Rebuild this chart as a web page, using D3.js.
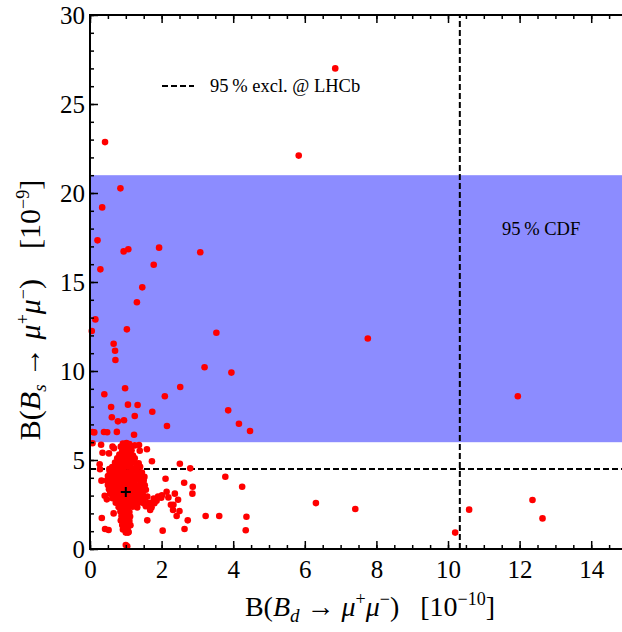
<!DOCTYPE html>
<html>
<head>
<meta charset="utf-8">
<script src="https://cdn.jsdelivr.net/npm/d3@7"></script>
<style>
  body { margin: 0; background: #fff; }
  svg { display: block; }
</style>
</head>
<body>
<svg id="chart" width="622" height="632"></svg>
<script>
// scan points: [B(Bd->mumu) in 1e-10, B(Bs->mumu) in 1e-9]
var outerPoints = [
  [6.85, 27.0], [5.83, 22.1], [0.42, 22.86], [0.85, 20.26], [0.34, 19.19], [0.21, 17.34],
  [0.94, 16.72], [1.07, 16.84], [1.93, 16.93], [3.08, 16.67], [0.29, 15.71], [1.78, 15.97],
  [1.46, 14.70], [1.31, 13.86], [0.15, 12.90], [0.05, 12.25], [1.03, 12.34], [3.53, 12.15],
  [7.76, 11.83], [0.66, 11.53], [0.70, 11.14], [0.71, 10.62], [3.20, 10.21], [3.95, 9.91],
  [0.98, 9.03], [2.52, 9.10], [11.95, 8.58], [0.40, 8.69], [2.09, 8.58], [0.59, 7.98],
  [1.06, 8.11], [1.33, 8.09], [1.74, 7.71], [3.86, 7.79], [0.61, 7.40], [0.78, 7.17],
  [0.95, 7.23], [1.25, 7.47], [2.15, 6.91], [4.16, 7.04], [4.47, 6.63], [0.07, 6.57],
  [0.12, 6.55], [0.39, 6.57], [0.48, 6.56], [0.75, 6.58], [1.23, 6.42]
];

var lowPoints = [
  [0.31, 5.86], [0.07, 5.94], [0.35, 5.41], [0.53, 5.37], [0.63, 5.75], [0.67, 5.66],
  [1.37, 5.84], [1.39, 5.52], [1.25, 5.82], [1.59, 5.60], [1.36, 4.81], [1.73, 4.93],
  [0.27, 4.76], [0.28, 4.48], [0.54, 4.49], [2.51, 4.79], [2.80, 4.53], [0.32, 3.84],
  [0.41, 2.99], [0.47, 2.79], [0.66, 2.00], [0.33, 1.74], [0.42, 1.12], [0.52, 1.07],
  [1.60, 1.61], [2.03, 1.03], [2.11, 3.95], [2.63, 3.72], [2.87, 3.50], [2.86, 3.11],
  [3.78, 4.06], [4.25, 3.50], [2.14, 3.22], [2.37, 3.11], [2.46, 2.77], [2.19, 2.90],
  [2.26, 2.49], [2.33, 2.49], [2.32, 2.19], [2.50, 2.13], [2.42, 1.85], [2.73, 1.61],
  [2.64, 1.12], [3.23, 1.85], [3.61, 1.85], [4.37, 1.81], [4.35, 1.05], [6.31, 2.58],
  [7.41, 2.25], [10.2, 0.92], [10.59, 2.21], [12.36, 2.75], [12.64, 1.72], [1.00, 0.22],
  [1.04, 0.15], [1.06, 0.92], [1.99, 2.88], [2.01, 3.02], [1.78, 2.83], [1.86, 2.71],
  [1.80, 2.57], [1.72, 2.34], [1.68, 2.19], [1.60, 2.95], [1.65, 2.60], [1.56, 2.40],
  [1.90, 2.95]
];

// the dense blob around the SM value
var clusterPoints = [
  [0.92, 5.92], [1.02, 5.95], [1.10, 5.90], [0.86, 5.75], [0.98, 5.70], [1.12, 5.72],
  [0.90, 5.50], [1.03, 5.48], [1.16, 5.55], [0.82, 5.30], [0.95, 5.28], [1.08, 5.32],
  [1.20, 5.25], [0.76, 5.10], [0.88, 5.05], [1.00, 5.08], [1.13, 5.02], [1.25, 5.10],
  [0.70, 4.85], [0.83, 4.80], [0.96, 4.86], [1.09, 4.82], [1.22, 4.88], [1.33, 4.78],
  [0.62, 4.60], [0.75, 4.62], [0.88, 4.58], [1.01, 4.64], [1.14, 4.60], [1.27, 4.55],
  [1.40, 4.62],
  [0.55, 4.35], [0.68, 4.38], [0.80, 4.33], [0.93, 4.36], [1.06, 4.31], [1.19, 4.37], [1.32, 4.34], [1.45, 4.30],
  [0.50, 4.10], [0.63, 4.12], [0.76, 4.08], [0.89, 4.13], [1.02, 4.09], [1.15, 4.11], [1.28, 4.07], [1.41, 4.12], [1.52, 4.05],
  [0.47, 3.85], [0.60, 3.87], [0.73, 3.83], [0.86, 3.88], [0.99, 3.84], [1.12, 3.86], [1.25, 3.82], [1.38, 3.87], [1.50, 3.84],
  [0.50, 3.60], [0.62, 3.62], [0.75, 3.58], [0.88, 3.63], [1.01, 3.59], [1.14, 3.61], [1.27, 3.57], [1.40, 3.62], [1.53, 3.58],
  [0.53, 3.35], [0.66, 3.37], [0.79, 3.33], [0.92, 3.38], [1.05, 3.34], [1.18, 3.36], [1.31, 3.32], [1.44, 3.37], [1.56, 3.33],
  [0.56, 3.10], [0.69, 3.12], [0.82, 3.08], [0.95, 3.13], [1.08, 3.09], [1.21, 3.11], [1.34, 3.07], [1.47, 3.12],
  [0.63, 2.85], [0.76, 2.87], [0.89, 2.83], [1.02, 2.88], [1.15, 2.84], [1.28, 2.86], [1.41, 2.82], [1.54, 2.87],
  [0.72, 2.60], [0.85, 2.62], [0.98, 2.58], [1.11, 2.63], [1.24, 2.59], [1.37, 2.61], [1.50, 2.57],
  [0.80, 2.35], [0.93, 2.37], [1.06, 2.33], [1.19, 2.38], [1.32, 2.34],
  [0.85, 2.10], [0.98, 2.12], [1.10, 2.08], [0.88, 1.85], [1.00, 1.87], [1.12, 1.83],
  [0.86, 1.60], [0.98, 1.62], [1.10, 1.58], [0.90, 1.35], [1.03, 1.37], [1.13, 1.33],
  [0.92, 1.10], [1.05, 1.12], [1.00, 0.92], [1.08, 0.95]
];

var smPoint = [1.0, 3.2];
var lhcbBd = 10.33;      // 95% excl. on Bd
var lhcbBs = 4.5;        // 95% excl. on Bs
var cdfBand = [6.0, 21.0];

var xMajor = [0, 2, 4, 6, 8, 10, 12, 14];
var yMajor = [0, 5, 10, 15, 20, 25, 30];

var svg = d3.select("#chart"),
    mLeft = 90, mRight = 622, mTop = 15, mBottom = 549,
    xMax = 14.86;

var x = d3.scaleLinear().domain([0, xMax]).range([mLeft, mRight]),
    y = d3.scaleLinear().domain([0, 30]).range([mBottom, mTop]);

var serif = '"Liberation Serif", "DejaVu Serif", serif';

// CDF band
svg.append("rect")
    .attr("x", x(0)).attr("width", x(xMax) - x(0))
    .attr("y", y(cdfBand[1])).attr("height", y(cdfBand[0]) - y(cdfBand[1]))
    .attr("fill", "#8c8cff");

// LHCb dashed limits
svg.append("line")
    .attr("x1", x(0)).attr("x2", x(xMax))
    .attr("y1", y(lhcbBs)).attr("y2", y(lhcbBs))
    .attr("stroke", "#000").attr("stroke-width", 2)
    .attr("stroke-dasharray", "6,3");
svg.append("line")
    .attr("x1", x(lhcbBd)).attr("x2", x(lhcbBd))
    .attr("y1", y(0)).attr("y2", y(30))
    .attr("stroke", "#000").attr("stroke-width", 2)
    .attr("stroke-dasharray", "6,3");

// points
var allPoints = clusterPoints.concat(lowPoints, outerPoints);
svg.append("g").selectAll("circle")
    .data(allPoints)
    .enter().append("circle")
    .attr("cx", function (d) { return x(d[0]); })
    .attr("cy", function (d) { return y(d[1]); })
    .attr("r", 3.3)
    .attr("fill", "#ff0000");

// SM cross
svg.append("path")
    .attr("d", "M" + (x(smPoint[0]) - 5) + "," + y(smPoint[1]) + "h10M" + x(smPoint[0]) + "," + (y(smPoint[1]) - 5) + "v10")
    .attr("stroke", "#000").attr("stroke-width", 2);

// axes (ticks inside the frame)
function minorVals(step, max) {
    return d3.range(0, max + 0.001, step);
}
function styleAxis(g) {
    g.select(".domain").remove();
    g.selectAll("line").attr("stroke", "#000").attr("stroke-width", 1.5);
}

svg.append("g").attr("transform", "translate(0," + mBottom + ")")
    .call(d3.axisBottom(x).tickValues(minorVals(0.5, xMax)).tickSize(-4).tickFormat(""))
    .call(styleAxis);
svg.append("g").attr("transform", "translate(0," + mBottom + ")")
    .call(d3.axisBottom(x).tickValues(xMajor).tickSize(-8).tickPadding(6))
    .call(styleAxis)
    .selectAll("text").attr("font-size", 25).attr("font-family", serif).attr("fill", "#000")
    .attr("dy", "0.9em");

svg.append("g").attr("transform", "translate(0," + mTop + ")")
    .call(d3.axisTop(x).tickValues(minorVals(0.5, xMax)).tickSize(-4).tickFormat(""))
    .call(styleAxis);
svg.append("g").attr("transform", "translate(0," + mTop + ")")
    .call(d3.axisTop(x).tickValues(xMajor).tickSize(-8).tickFormat(""))
    .call(styleAxis);

svg.append("g").attr("transform", "translate(" + mLeft + ",0)")
    .call(d3.axisLeft(y).tickValues(minorVals(1, 30)).tickSize(-4).tickFormat(""))
    .call(styleAxis);
svg.append("g").attr("transform", "translate(" + mLeft + ",0)")
    .call(d3.axisLeft(y).tickValues(yMajor).tickSize(-8).tickPadding(5))
    .call(styleAxis)
    .selectAll("text").attr("font-size", 25).attr("font-family", serif).attr("fill", "#000");

// frame
svg.append("rect")
    .attr("x", mLeft).attr("y", mTop)
    .attr("width", mRight - mLeft + 2).attr("height", mBottom - mTop)
    .attr("fill", "none").attr("stroke", "#000").attr("stroke-width", 2);

// axis titles
function addTitle(t, sub, exp, gap) {
    t.append("tspan").text("B(");
    t.append("tspan").attr("font-style", "italic").text("B");
    t.append("tspan").attr("font-style", "italic").attr("font-size", 19).attr("dy", 6).text(sub);
    t.append("tspan").attr("dy", -6).text(" \u2192 ");
    t.append("tspan").attr("font-style", "italic").text("\u03bc");
    t.append("tspan").attr("font-size", 18).attr("dy", -11).text("+");
    t.append("tspan").attr("font-style", "italic").attr("dy", 11).text("\u03bc");
    t.append("tspan").attr("font-size", 18).attr("dy", -11).text("\u2212");
    t.append("tspan").attr("dy", 11).text(")" + gap + "[10");
    t.append("tspan").attr("font-size", 18).attr("dy", -11).text(exp);
    t.append("tspan").attr("dy", 11).text("]");
}

addTitle(svg.append("text")
    .attr("x", 370).attr("y", 616)
    .attr("text-anchor", "middle")
    .attr("font-family", serif).attr("font-size", 28), "d", "\u221210", "\u00a0\u00a0\u00a0");

addTitle(svg.append("text")
    .attr("transform", "translate(40,310) rotate(-90)")
    .attr("text-anchor", "middle")
    .attr("font-family", serif).attr("font-size", 30), "s", "\u22129", "\u00a0\u00a0\u00a0\u00a0");

// legend + band label
svg.append("line")
    .attr("x1", 162).attr("x2", 194).attr("y1", 86).attr("y2", 86)
    .attr("stroke", "#000").attr("stroke-width", 2).attr("stroke-dasharray", "6,3");
svg.append("text")
    .attr("x", 210).attr("y", 92)
    .attr("font-family", serif).attr("font-size", 18.5)
    .text("95\u2009% excl. @ LHCb");
svg.append("text")
    .attr("x", 502).attr("y", 235)
    .attr("font-family", serif).attr("font-size", 18.5)
    .text("95\u2009% CDF");
</script>
</body>
</html>
